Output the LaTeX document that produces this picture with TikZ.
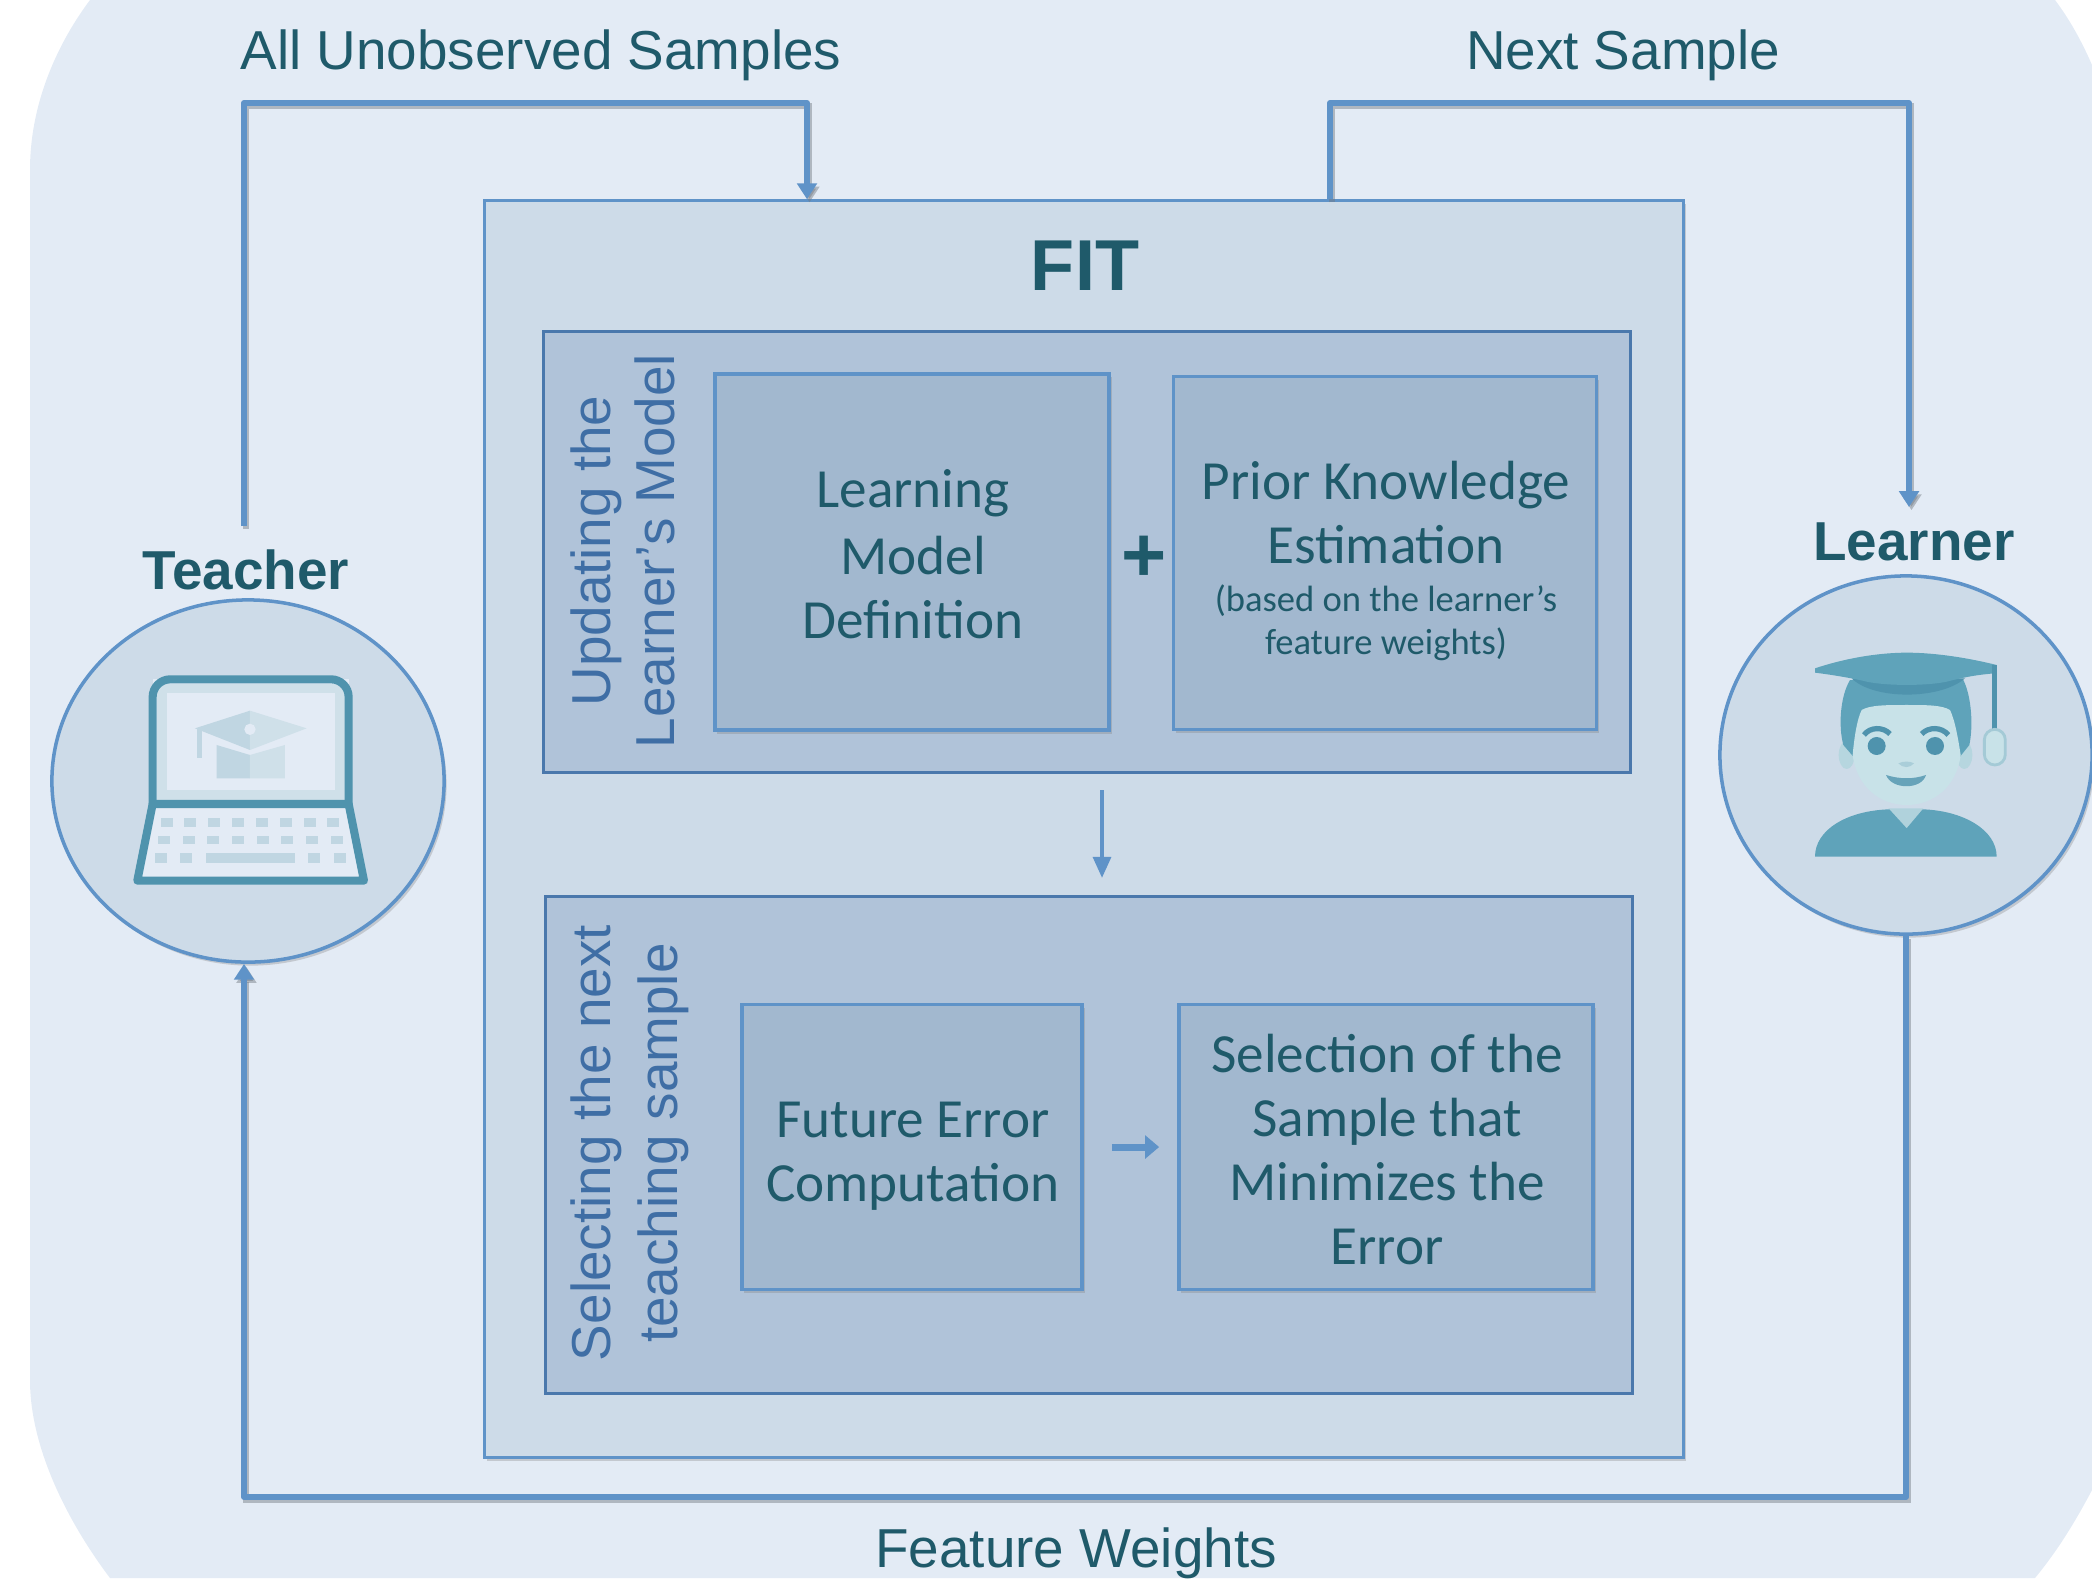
\documentclass[tikz,border=0pt]{standalone}
\usepackage{fontspec}
\usetikzlibrary{arrows.meta,shapes.geometric,shadows}
\setmainfont{Liberation Sans}
\newfontfamily\boxfont{Carlito}
\definecolor{pagefill}{HTML}{E3EBF5}
\definecolor{fitfill}{HTML}{CDDBE8}
\definecolor{groupfill}{HTML}{B0C3D9}
\definecolor{leaffill}{HTML}{A2B8CF}
\definecolor{linkblue}{HTML}{5F93C8}
\definecolor{groupline}{HTML}{4A78AC}
\definecolor{titleteal}{HTML}{1F5A6A}
\definecolor{sideblue}{HTML}{3F6EA5}
\definecolor{iconteal}{HTML}{4F93AD}
\definecolor{iconpale}{HTML}{C0D6E2}
\definecolor{iconmid}{HTML}{CFE0E9}
\definecolor{iconface}{HTML}{C8E2E8}
\definecolor{iconhair}{HTML}{5FA3BA}
\newcommand{\notefont}{\fontsize{10.4}{12}\selectfont}
\tikzset{
    softshadow/.style={drop shadow={shadow xshift=.7pt,shadow yshift=-1pt,opacity=.32}},
    fitstyle/.style={draw=linkblue,line width=.8pt,fill=fitfill,inner sep=0pt,softshadow},
    groupstyle/.style={draw=groupline,line width=.9pt,fill=groupfill,inner sep=0pt},
    leafstyle/.style={draw=linkblue,line width=1pt,fill=leaffill,inner sep=0pt,softshadow},
    actorstyle/.style={ellipse,draw=linkblue,line width=1pt,fill=fitfill,inner sep=0pt,softshadow},
    flowlabel/.style={text=titleteal,font=\fontsize{15.6}{19}\selectfont},
    actorlabel/.style={text=titleteal,font=\bfseries\fontsize{15.6}{18}\selectfont},
    sidelabel/.style={rotate=90,align=center,text=sideblue},
    boxtext/.style={align=center,text=titleteal,font=\boxfont\fontsize{15.7}{18.2}\selectfont},
    flowline/.style={draw=linkblue,line width=1.7pt,line join=round,
        preaction={draw=black!45!fitfill,line width=1.7pt,opacity=.45,transform canvas={xshift=.7pt,yshift=-.9pt}}},
    flowtip/.style={-{Triangle[width=5.5pt,length=4.5pt]}}
}
\begin{document}
\begin{tikzpicture}[x=0.01cm,y=-0.01cm]
    \useasboundingbox (0,0) rectangle (2092,1578);
    \fill [color=pagefill] (90,0) -- (2055,0) .. controls (2070,20) and (2082,42) .. (2092,65) -- (2092,1490)
        .. controls (2075,1522) and (2058,1550) .. (2035,1578) -- (110,1578)
        .. controls (70,1525) and (30,1450) .. (30,1380) -- (30,170) .. controls (30,100) and (60,40) .. (90,0) -- cycle;

    \node [fitstyle,minimum width=11.98cm,minimum height=12.56cm] (fitbox) at (1084,829) {};
    \node [groupstyle,minimum width=10.86cm,minimum height=4.41cm] (updatebox) at (1087,552) {};
    \node [groupstyle,minimum width=10.86cm,minimum height=4.96cm] (selectbox) at (1089,1145) {};
    \node [leafstyle,minimum width=3.94cm,minimum height=3.56cm] (modelbox) at (912,552) {};
    \node [leafstyle,minimum width=4.23cm,minimum height=3.53cm] (priorbox) at (1385,553) {};
    \node [leafstyle,minimum width=3.40cm,minimum height=2.85cm] (errorbox) at (912,1147) {};
    \node [leafstyle,minimum width=4.14cm,minimum height=2.85cm] (samplebox) at (1386,1147) {};
    \node [actorstyle,minimum width=3.92cm,minimum height=3.62cm] (teacher) at (248,781) {};
    \node [actorstyle,minimum width=3.72cm,minimum height=3.58cm] (learner) at (1906,755) {};

    \coordinate (teacherup) at (244,526);
    \coordinate (alltop) at (807,103);
    \coordinate (nexttop) at (1330,103);
    \coordinate (learnerup) at (1909,507);
    \coordinate (bottomleft) at (244,1497);
    \coordinate (midtop) at (1102,790);
    \coordinate (midend) at (1102,878);
    \draw [flowline,flowtip] (teacherup) |- (alltop) -- (fitbox.north -| alltop);
    \draw [flowline,flowtip] (fitbox.north -| nexttop) -- (nexttop) -| (learnerup);
    \draw [flowline,flowtip] (learner.south) |- (bottomleft) -- (teacher.south -| bottomleft);
    \draw [color=linkblue,line width=1.2pt,-{Triangle[width=5pt,length=6pt]}] (midtop) -- (midend);
    \draw [color=linkblue,line width=2pt,shorten <=.28cm,shorten >=.18cm,-{Triangle[width=6.5pt,length=4pt]}] (errorbox.east) -- (samplebox.west);

    \node [text=titleteal,font=\bfseries\fontsize{20.5}{24}\selectfont] (fitlabel) at (1085,266) {FIT};
    \node [flowlabel] (alllabel) at (541,55) {All Unobserved Samples};
    \node [flowlabel] (nextlabel) at (1623,55) {Next Sample};
    \node [flowlabel] (weightlabel) at (1076,1553) {Feature Weights};
    \node [actorlabel] (teacherlabel) at (246,570) {Teacher};
    \node [actorlabel] (learnerlabel) at (1914,542) {Learner};
    \node [sidelabel,font=\fontsize{15.6}{18.2}\selectfont] (updatelabel) at (623,551) {Updating the\\Learner’s Model};
    \node [sidelabel,font=\fontsize{15.6}{19}\selectfont] (selectlabel) at (630,1143) {Selecting the next\\teaching sample};
    \node [boxtext] (modeltext) at (913,554) {Learning\\[.8pt]Model\\Definition};
    \node [boxtext] (priortext) at (1386,561) {Prior Knowledge\\Estimation\\[-4.4pt]{\notefont (based on the learner’s}\\[-6pt]{\notefont feature weights)}};
    \node [boxtext] (errortext) at (913,1156) {Future Error\\Computation};
    \node [boxtext] (sampletext) at (1387,1149) {Selection of the\\Sample that\\Minimizes the\\Error};
    \node [text=titleteal,font=\bfseries\fontsize{22}{24}\selectfont,inner sep=0pt] (plus) at (1144,559) {+};

    \begin{scope}[shift={(40,520)},scale=.3333]
        \fill [color=pagefill] (338,478) rectangle (926,850);
        \fill [color=iconmid] (352,492) rectangle (914,840);
        \fill [color=pagefill] (380,520) rectangle (885,810);
        \fill [color=iconpale] (465,625) -- (630,572) -- (630,690) -- cycle;
        \fill [color=iconmid] (630,572) -- (800,625) -- (630,690) -- cycle;
        \fill [color=iconpale] (530,675) -- (630,705) -- (630,775) -- (530,775) -- cycle;
        \fill [color=iconmid] (630,705) -- (735,675) -- (735,775) -- (630,775) -- cycle;
        \fill [color=iconpale] (470,625) rectangle (485,715);
        \fill [color=pagefill] (630,628) circle (17);
        \draw [color=iconteal,line width=2.3pt,rounded corners=5pt] (338,852) -- (338,478) -- (926,478) -- (926,852);
        \draw [color=iconteal,line width=2.3pt,line join=round,fill=pagefill] (338,852) -- (926,852) -- (972,1082) -- (292,1082) -- cycle;
        \foreach \keyx in {0,...,7} {
            \fill [color=iconpale] (362+71.5*\keyx,895) rectangle ++(36,26);
            \fill [color=iconpale] (354+74*\keyx,947) rectangle ++(36,26);
        }
        \foreach \keyx in {344,420,805,882} {
            \fill [color=iconpale] (\keyx,1000) rectangle ++(36,30);
        }
        \fill [color=iconpale] (498,1000) rectangle (765,1030);
    \end{scope}

    \begin{scope}[shift={(1700,500)},scale=.3333]
        \fill [color=iconface!85!iconteal] (440,765) ellipse (24 and 42);
        \fill [color=iconface!85!iconteal] (793,765) ellipse (24 and 42);
        \fill [color=iconhair] (450,540) .. controls (420,590) and (415,680) .. (430,735) -- (460,770) -- (780,770) -- (808,735)
            .. controls (820,680) and (815,590) .. (790,540) -- cycle;
        \fill [color=iconface] (620,615) .. controls (560,615) and (510,615) .. (485,630) .. controls (470,660) and (462,720) .. (458,765)
            .. controls (470,860) and (540,915) .. (620,915) .. controls (700,915) and (770,860) .. (782,765)
            .. controls (775,720) and (765,660) .. (750,630) .. controls (725,615) and (680,615) .. (620,615) -- cycle;
        \fill [color=iconface!80!iconteal] (565,925) -- (670,925) -- (620,990) -- cycle;
        \fill [color=iconhair] (345,1070) .. controls (345,990) and (440,932) .. (568,928) -- (620,985) -- (668,928)
            .. controls (790,932) and (890,990) .. (890,1070) -- cycle;
        \fill [color=iconteal] (455,535) .. controls (520,600) and (720,600) .. (795,535) -- cycle;
        \fill [color=iconhair] (345,505) .. controls (450,470) and (550,458) .. (620,458) .. controls (710,458) and (810,475) .. (890,495)
            -- (885,520) .. controls (820,525) and (780,535) .. (740,545) .. controls (680,558) and (560,558) .. (500,545)
            .. controls (460,535) and (400,525) .. (345,518) -- cycle;
        \fill [color=iconteal] (875,495) rectangle (892,690);
        \draw [color=iconteal!30!iconface,line width=.8pt,fill=iconface,rounded corners=3pt] (853,688) rectangle (916,795);
        \fill [color=iconteal] (530,738) circle (27);
        \fill [color=iconteal] (705,738) circle (27);
        \draw [color=iconteal,line width=1.5pt] (492,705) .. controls (510,680) and (550,680) .. (570,702);
        \draw [color=iconteal,line width=1.5pt] (665,702) .. controls (685,680) and (725,680) .. (745,705);
        \fill [color=iconface!75!iconteal] (595,790) .. controls (610,783) and (630,783) .. (642,790) .. controls (630,805) and (608,805) .. (595,790) -- cycle;
        \fill [color=iconteal!80!iconface] (558,825) .. controls (600,838) and (640,838) .. (678,825) .. controls (665,870) and (575,870) .. (558,825) -- cycle;
    \end{scope}
\end{tikzpicture}
\end{document}
